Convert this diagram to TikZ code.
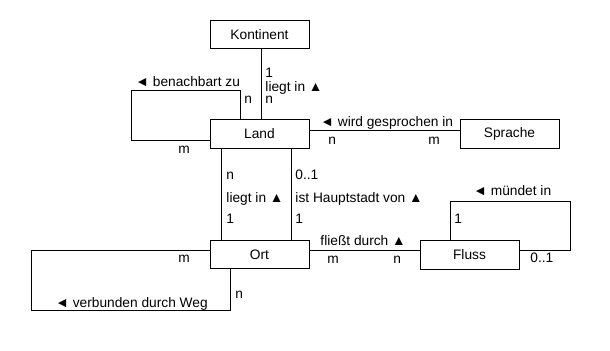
\documentclass[tikz,border=0pt]{standalone}
\usepackage{fontspec}
\setmainfont{Liberation Sans}

\begin{document}
\begin{tikzpicture}[x=0.75pt, y=-0.75pt, line width=0.7pt,
	every node/.style={font=\fontsize{10.3}{12}\selectfont},
	entity/.style={draw, minimum width=74.25pt, minimum height=21.5pt, inner sep=0pt},
	lbl/.style={anchor=base west, inner sep=0pt}]
	\useasboundingbox (0,0) rectangle (610,350);
	% entities
	\node[entity] (kont) at (259.5,34.5) {Kontinent};
	\node[entity] (land) at (259.5,134) {Land};
	\node[entity] (sprache) at (509.5,134) {Sprache};
	\node[entity] (ort) at (259.5,254.5) {Ort};
	\node[entity] (fluss) at (469.5,255) {Fluss};
	% helper points
	\coordinate (kl) at (261,0);
	\coordinate (ls) at (0,130);
	\coordinate (lo1) at (221,0);
	\coordinate (lo2) at (291,0);
	\coordinate (of) at (0,250);
	\coordinate (lnd1) at (240,90);
	\coordinate (lnd2) at (131,140);
	\coordinate (ort1) at (31,310);
	\coordinate (ort2) at (230,250);
	\coordinate (fl1) at (450,201);
	\coordinate (fl2) at (570,250);
	% relations
	\draw (kont.south -| kl) -- (land.north -| kl);
	\draw (land.east |- ls) -- (sprache.west |- ls);
	\draw (land.south -| lo1) -- (ort.north -| lo1);
	\draw (land.south -| lo2) -- (ort.north -| lo2);
	\draw (ort.east |- of) -- (fluss.west |- of);
	\draw (land.north -| lnd1) |- (lnd2 |- lnd1) |- (land.west |- lnd2);
	\draw (ort.west |- ort2) -| (ort1) -| (ort.south -| ort2);
	\draw (fluss.north -| fl1) |- (fl2 |- fl1) |- (fluss.east |- fl2);
	% labels
	\node[lbl] (kl1) at (265,77) {1};
	\node[lbl] (kl2) at (265,91) {liegt in ▲};
	\node[lbl] (kl3) at (265,103) {n};
	\node[lbl] (bz) at (135,86) {◄ benachbart zu};
	\node[lbl] (bzn) at (244,103) {n};
	\node[lbl] (bzm) at (178,153) {m};
	\node[lbl] (wg) at (320,126) {◄ wird gesprochen in};
	\node[lbl] (wgn) at (328,144) {n};
	\node[lbl] (wgm) at (428,144) {m};
	\node[lbl] (li1) at (226,179) {n};
	\node[lbl] (li2) at (226,202) {liegt in ▲};
	\node[lbl] (li3) at (226,223) {1};
	\node[lbl] (hs1) at (295,179) {0..1};
	\node[lbl] (hs2) at (295,202) {ist Hauptstadt von ▲};
	\node[lbl] (hs3) at (295,223) {1};
	\node[lbl] (fd) at (320,245) {fließt durch ▲};
	\node[lbl] (fdm) at (327,263) {m};
	\node[lbl] (fdn) at (393,263) {n};
	\node[lbl] (vw) at (55,307) {◄ verbunden durch Weg};
	\node[lbl] (vwm) at (178,262) {m};
	\node[lbl] (vwn) at (235,298) {n};
	\node[lbl] (mi) at (473,195) {◄ mündet in};
	\node[lbl] (mi1) at (454,223) {1};
	\node[lbl] (mi2) at (530,262) {0..1};
\end{tikzpicture}
\end{document}
